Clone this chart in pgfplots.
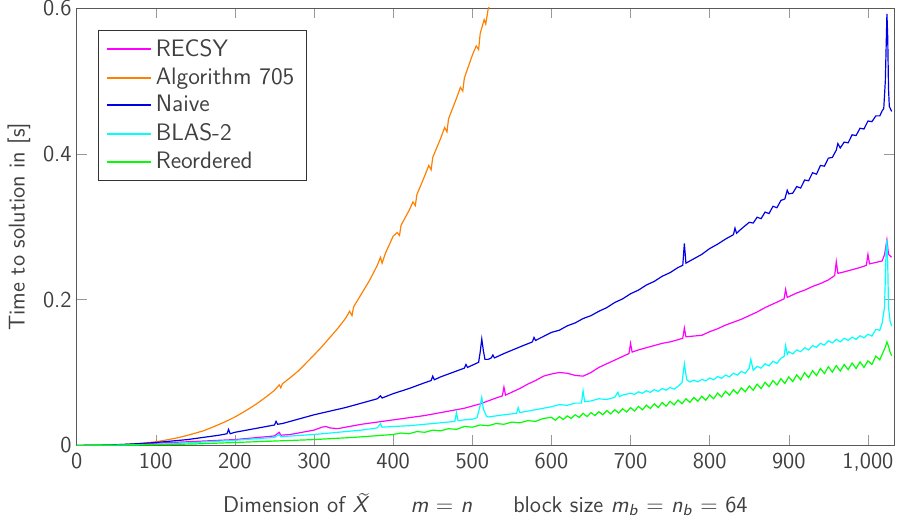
\documentclass[border=0pt]{standalone}
\usepackage{pgfplots}
\pgfplotsset{compat=1.18}
\renewcommand{\familydefault}{\sfdefault}
\definecolor{cmag}{RGB}{255,0,255}
\definecolor{corg}{RGB}{255,128,0}
\definecolor{cblu}{RGB}{0,0,230}
\definecolor{ccyn}{RGB}{0,255,255}
\definecolor{cgrn}{RGB}{0,255,0}
\definecolor{txtgray}{RGB}{64,64,64}
\newcommand{\Xtilde}{\ooalign{\textit{X}\cr\hidewidth\kern0.25em\raisebox{1.2ex}{\scalebox{0.8}[1]{\~{}}}\hidewidth\cr}}

\begin{document}
\sffamily\fontsize{11.5pt}{14pt}\selectfont
\begin{tikzpicture}
\begin{axis}[
    scale only axis,
    width=412pt, height=220.5pt,
    xmin=0, xmax=1033,
    ymin=0, ymax=0.6,
    xtick={0,100,...,1000},
    ytick={0,0.2,0.4,0.6},
    /pgf/number format/assume math mode=true,
    tick align=inside,
    major tick length=5pt,
    axis line style={black!65},
    tick style={black!40},
    tick label style={text=txtgray},
    yticklabel style={xshift=1.5pt, inner ysep=0pt},
    label style={text=txtgray},
    ylabel style={yshift=-1.5pt},
    xlabel style={yshift=-4.5pt},
    xlabel={Dimension of \Xtilde\hspace{1.8em}\textit{m} = \textit{n}\hspace{1.8em}block size \textit{m}\textsubscript{\textit{b}} = \textit{n}\textsubscript{\textit{b}} = 64},
    ylabel={Time to solution in [s]},
    legend style={at={(0.026,0.95)}, anchor=north west, draw=black!80,
        text=txtgray, inner xsep=4pt, inner ysep=2.5pt,
        font=\fontsize{12pt}{14.5pt}\selectfont},
    legend cell align=left,
    legend image code/.code={\draw[#1,line width=1pt] (0pt,0pt) -- (22pt,0pt);},
    every axis plot/.append style={line width=0.6pt},
]
% RECSY
\addplot[cmag] coordinates {
(0,0) (50,0.0006) (100,0.003) (150,0.0055) (200,0.008) (220,0.010) (240,0.012)
(250,0.013) (256,0.018) (258,0.014) (270,0.015) (280,0.017) (290,0.019) (300,0.021)
(310,0.025) (315,0.026) (320,0.024) (330,0.023) (340,0.025) (360,0.029) (380,0.032)
(400,0.035) (420,0.038) (440,0.041) (450,0.043) (470,0.047) (490,0.051) (500,0.054)
(510,0.057) (520,0.061) (530,0.065) (538,0.068) (540,0.080) (542,0.069) (550,0.073)
(560,0.078) (570,0.084) (580,0.089) (590,0.095) (600,0.098) (610,0.100) (620,0.099)
(630,0.096) (640,0.095) (650,0.100) (660,0.107) (670,0.112) (680,0.117) (690,0.122)
(698,0.126) (700,0.140) (702,0.128) (710,0.131) (720,0.134) (730,0.137) (740,0.140)
(750,0.142) (760,0.145) (766,0.147) (768,0.161) (770,0.149) (780,0.150) (790,0.151)
(800,0.156) (810,0.160) (820,0.165) (830,0.169) (840,0.173) (850,0.178) (860,0.183)
(870,0.189) (880,0.194) (890,0.199) (894,0.201) (896,0.214) (898,0.203) (900,0.204)
(910,0.209) (920,0.213) (930,0.218) (940,0.222) (950,0.227) (958,0.233) (960,0.252)
(962,0.236) (970,0.238) (980,0.241) (990,0.244) (998,0.247) (1000,0.262) (1002,0.249)
(1010,0.251) (1018,0.253) (1021,0.262) (1024,0.282) (1026,0.262) (1030,0.258)
};
\addlegendentry{RECSY}
% Algorithm 705
\addplot[corg] coordinates {
(0,0) (10,0.0001) (20,0.0002) (30,0.0004) (40,0.0006) (50,0.0009) (60,0.0014)
(70,0.002) (80,0.0028) (90,0.0038) (100,0.005) (110,0.0068) (120,0.0088) (130,0.011)
(140,0.0138) (150,0.0168) (160,0.020) (170,0.0242) (180,0.0288) (190,0.0336)
(200,0.039) (210,0.0452) (220,0.0518) (230,0.0590) (240,0.067) (250,0.0755)
(256,0.083) (258,0.079) (260,0.0845) (270,0.093) (280,0.102) (290,0.113) (300,0.124)
(310,0.1355) (320,0.148) (330,0.1605) (340,0.1745) (345,0.184) (348,0.178) (350,0.190)
(360,0.208) (370,0.226) (380,0.247) (384,0.258) (386,0.250) (390,0.263) (400,0.287)
(405,0.292) (408,0.288) (410,0.302) (420,0.322) (425,0.334) (428,0.329) (430,0.344)
(440,0.370) (445,0.384) (448,0.378) (450,0.395) (460,0.421) (465,0.436) (468,0.430)
(470,0.448) (480,0.476) (485,0.491) (488,0.486) (490,0.504) (500,0.535) (505,0.548)
(508,0.543) (510,0.565) (515,0.584) (517,0.578) (520,0.598) (525,0.612)
};
\addlegendentry{Algorithm 705}
% Naive
\addplot[cblu] coordinates {
(0,0) (20,0.0002) (40,0.0006) (60,0.0014) (80,0.0025) (100,0.004) (120,0.006)
(140,0.008) (160,0.011) (180,0.014) (190,0.016) (192,0.022) (194,0.016) (200,0.018)
(220,0.022) (240,0.026) (250,0.028) (252,0.033) (254,0.029) (260,0.030) (280,0.036)
(300,0.042) (320,0.047) (340,0.052) (360,0.058) (380,0.064) (384,0.068) (386,0.065)
(400,0.071) (420,0.078) (440,0.086) (448,0.089) (450,0.095) (452,0.090) (460,0.094)
(480,0.102) (490,0.106) (492,0.111) (494,0.107) (500,0.110) (508,0.114) (510,0.128)
(512,0.146) (514,0.130) (516,0.118) (520,0.118) (524,0.120) (526,0.124) (528,0.120)
(540,0.126) (560,0.135) (576,0.142) (578,0.148) (580,0.144) (600,0.155) (610,0.158)
(620,0.164) (630,0.168) (640,0.174) (650,0.178) (660,0.184) (670,0.189) (680,0.196)
(690,0.201) (700,0.208) (710,0.213) (720,0.220) (730,0.225) (740,0.232) (750,0.237)
(760,0.244) (766,0.247) (768,0.277) (770,0.250) (780,0.256) (790,0.262) (800,0.270)
(810,0.276) (820,0.283) (830,0.289) (832,0.298) (834,0.291) (840,0.297)
(850,0.306) (855,0.305) (860,0.313) (865,0.311) (870,0.320) (875,0.318) (880,0.328)
(885,0.326) (890,0.336) (895,0.338) (898,0.350) (900,0.345) (905,0.346) (910,0.355)
(915,0.353) (920,0.364) (925,0.363) (930,0.374) (935,0.372) (940,0.384) (945,0.383)
(950,0.394) (955,0.395) (960,0.405) (962,0.414) (965,0.408) (970,0.416) (975,0.415)
(980,0.426) (985,0.425) (990,0.435) (995,0.434) (1000,0.445) (1005,0.444)
(1010,0.452) (1015,0.452) (1018,0.459) (1020,0.462) (1022,0.500) (1024,0.592)
(1025,0.560) (1026,0.490) (1027,0.465) (1030,0.458)
};
\addlegendentry{Naive}
% BLAS-2
\addplot[ccyn] coordinates {
(0,0) (50,0.0004) (100,0.0015) (150,0.004) (200,0.007) (250,0.011) (256,0.015)
(258,0.012) (300,0.015) (320,0.017) (340,0.019) (360,0.021) (380,0.024) (384,0.030)
(386,0.025) (400,0.026) (420,0.027) (440,0.029) (460,0.031) (478,0.033) (480,0.045)
(482,0.034) (490,0.035) (500,0.036) (506,0.038) (510,0.055) (512,0.066) (514,0.050)
(518,0.040) (520,0.039) (540,0.042) (556,0.044) (558,0.052) (560,0.045) (580,0.049)
(600,0.053) (610,0.056) (620,0.055) (630,0.058) (638,0.058) (640,0.075) (642,0.060)
(650,0.061) (660,0.064) (670,0.063) (680,0.066) (684,0.073) (686,0.067) (690,0.069)
(700,0.0715) (705,0.0700) (710,0.0735) (715,0.0715) (720,0.0750) (725,0.0728)
(730,0.0765) (735,0.0742) (740,0.0780) (745,0.0758) (750,0.0795) (755,0.0772)
(760,0.0810) (765,0.0860) (768,0.1120) (771,0.0900) (775,0.0870) (780,0.0895)
(785,0.0872) (790,0.0905) (795,0.0885) (800,0.0925) (805,0.0900) (810,0.0945)
(815,0.0920) (820,0.0965) (825,0.0940) (830,0.0990) (835,0.0965) (840,0.1015)
(845,0.0990) (850,0.1060) (852,0.1180) (855,0.1030) (860,0.1085) (865,0.1060)
(870,0.1120) (875,0.1090) (880,0.1155) (885,0.1125) (890,0.1195) (894,0.1220)
(896,0.1370) (898,0.1250) (900,0.1285) (905,0.1255) (910,0.1310) (915,0.1285)
(920,0.1340) (925,0.1310) (930,0.1370) (935,0.1345) (940,0.1400) (945,0.1375)
(950,0.1435) (955,0.1405) (960,0.1455) (965,0.1420) (970,0.1470) (975,0.1440)
(980,0.1485) (985,0.1455) (990,0.1505) (995,0.1475) (1000,0.1525) (1005,0.1500)
(1010,0.1590) (1015,0.1580) (1018,0.168) (1021,0.190) (1023,0.270) (1024,0.282)
(1025,0.250) (1026,0.190) (1028,0.170) (1030,0.164)
};
\addlegendentry{BLAS-2}
% Reordered
\addplot[cgrn] coordinates {
(0,0) (50,0.0003) (100,0.001) (150,0.002) (200,0.004) (250,0.006) (300,0.008)
(350,0.011) (400,0.015) (410,0.017) (420,0.016) (430,0.019) (440,0.018) (450,0.021)
(460,0.020) (470,0.023) (480,0.022) (490,0.026) (500,0.025) (510,0.028) (520,0.027)
(530,0.030) (540,0.029) (550,0.032) (560,0.031) (570,0.034) (580,0.033) (590,0.037)
(600,0.0385) (605,0.0345) (610,0.0395) (615,0.0355) (620,0.0405) (625,0.0370)
(630,0.0420) (635,0.0385) (640,0.0440) (645,0.0395) (650,0.0450) (655,0.0410)
(660,0.0462) (665,0.0420) (670,0.0478) (675,0.0432) (680,0.0490) (685,0.0445)
(690,0.0502) (695,0.0458) (700,0.0518) (705,0.0472) (710,0.0535) (715,0.0488)
(720,0.0552) (725,0.0505) (730,0.0570) (735,0.0520) (740,0.0588) (745,0.0538)
(750,0.0605) (755,0.0555) (760,0.0622) (765,0.0572) (770,0.0640) (775,0.0590)
(780,0.0658) (785,0.0605) (790,0.0675) (795,0.0620) (800,0.0692) (805,0.0640)
(810,0.0718) (815,0.0665) (820,0.0742) (825,0.0688) (830,0.0765) (835,0.0710)
(840,0.0790) (845,0.0735) (850,0.0815) (855,0.0758) (860,0.0840) (865,0.0780)
(870,0.0865) (875,0.0805) (880,0.0890) (885,0.0828) (890,0.0915) (895,0.0850)
(900,0.0940) (905,0.0875) (910,0.0968) (915,0.0900) (920,0.0998) (925,0.0930)
(930,0.1025) (935,0.0958) (940,0.1055) (945,0.0985) (950,0.1080) (955,0.1005)
(960,0.1095) (965,0.1020) (970,0.1110) (975,0.1040) (980,0.1130) (985,0.1055)
(990,0.1145) (995,0.1070) (1000,0.1160) (1005,0.1110) (1010,0.1225) (1015,0.1175)
(1020,0.1300) (1022,0.135) (1024,0.142) (1026,0.136) (1028,0.128) (1030,0.123)
};
\addlegendentry{Reordered}
\end{axis}
\end{tikzpicture}
\end{document}
